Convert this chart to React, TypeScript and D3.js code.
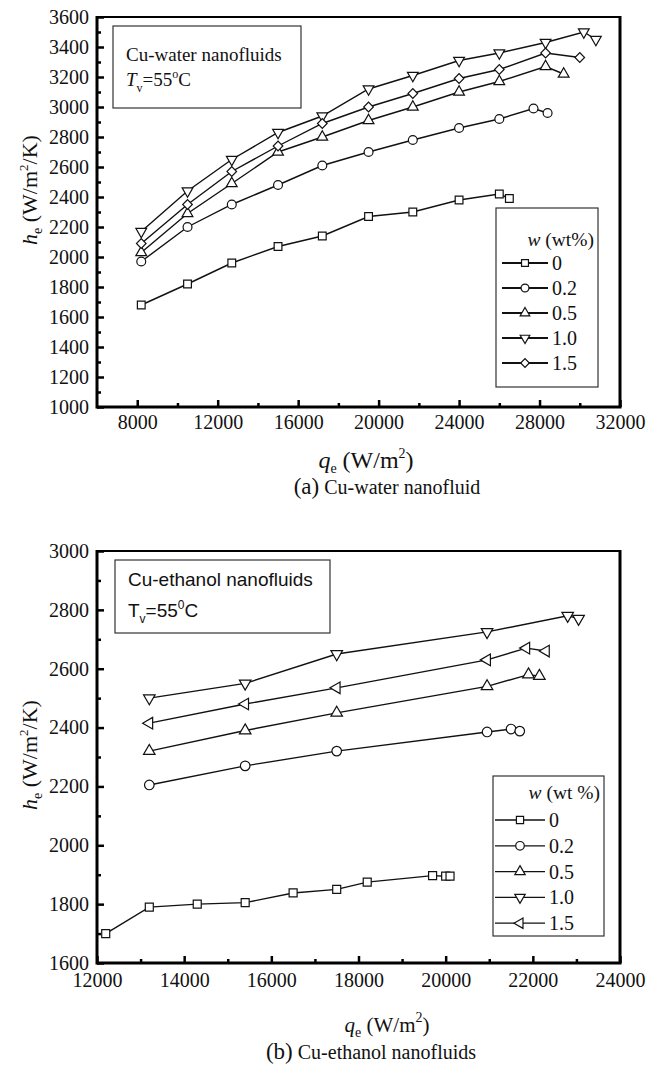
import React, { useEffect, useRef } from 'react';
import * as d3 from 'd3';

// (a) Cu-water nanofluid, q_e in W/m2, h_e in W/m2/K
const waterQ0 = [8200, 10500, 12700, 15000, 17200, 19500, 21700, 24000, 26000, 26500];
const waterH0 = [1680, 1820, 1960, 2070, 2140, 2270, 2300, 2380, 2420, 2390];
const waterQ02 = [8200, 10500, 12700, 15000, 17200, 19500, 21700, 24000, 26000, 27700, 28400];
const waterH02 = [1970, 2200, 2350, 2480, 2610, 2700, 2780, 2860, 2920, 2990, 2960];
const waterQ05 = [8200, 10500, 12700, 15000, 17200, 19500, 21700, 24000, 26000, 28300, 29200];
const waterH05 = [2030, 2290, 2490, 2700, 2800, 2910, 3000, 3100, 3170, 3270, 3220];
const waterQ10 = [8200, 10500, 12700, 15000, 17200, 19500, 21700, 24000, 26000, 28300, 30200, 30800];
const waterH10 = [2170, 2440, 2650, 2830, 2940, 3120, 3210, 3310, 3360, 3430, 3500, 3450];
const waterQ15 = [8200, 10500, 12700, 15000, 17200, 19500, 21700, 24000, 26000, 28300, 30000];
const waterH15 = [2090, 2350, 2570, 2740, 2890, 3000, 3090, 3190, 3250, 3360, 3330];

// (b) Cu-ethanol nanofluids
const ethQ0 = [12200, 13200, 14300, 15400, 16500, 17500, 18200, 19700, 20000, 20100];
const ethH0 = [1700, 1790, 1800, 1805, 1838, 1850, 1875, 1897, 1895, 1895];
const ethQ02 = [13200, 15400, 17500, 20950, 21500, 21700];
const ethH02 = [2205, 2270, 2320, 2385, 2395, 2388];
const ethQ05 = [13200, 15400, 17500, 20950, 21900, 22150];
const ethH05 = [2320, 2390, 2450, 2540, 2580, 2575];
const ethQ10 = [13200, 15400, 17500, 20950, 22800, 23050];
const ethH10 = [2500, 2550, 2650, 2725, 2780, 2770];
const ethQ15 = [13200, 15400, 17500, 20950, 21850, 22300];
const ethH15 = [2415, 2480, 2535, 2630, 2670, 2660];

const levels = ['0', '0.2', '0.5', '1.0', '1.5'];

const waterXMajor = [8000, 12000, 16000, 20000, 24000, 28000, 32000];
const waterXMinor = [10000, 14000, 18000, 22000, 26000, 30000];
const waterYMajor = d3.range(1000, 3601, 200);
const waterYMinor = d3.range(1100, 3600, 200);

const ethXMajor = [12000, 14000, 16000, 18000, 20000, 22000, 24000];
const ethXMinor = [13000, 15000, 17000, 19000, 21000, 23000];
const ethYMajor = d3.range(1600, 3001, 200);
const ethYMinor = d3.range(1700, 3000, 200);

const SERIF = '"Liberation Serif", "Times New Roman", serif';
const SANS = '"Liberation Sans", Arial, sans-serif';

const markers = [
  { type: d3.symbolSquare, rot: 0, size: 60 },
  { type: d3.symbolCircle, rot: 0, size: 62 },
  { type: d3.symbolTriangle, rot: 0, size: 50 },
  { type: d3.symbolTriangle, rot: 180, size: 50 },
];

const drawPanel = (svg, cfg) => {
  const { box } = cfg;
  const x = d3.scaleLinear().domain(cfg.xDomain).range([box.left, box.right]);
  const y = d3.scaleLinear().domain(cfg.yDomain).range([box.bottom, box.top]);
  const g = svg.append('g');

  // data
  const line = d3.line().x((d) => x(d[0])).y((d) => y(d[1]));
  cfg.series.forEach((s, i) => {
    const pts = s.q.map((q, k) => [q, s.h[k]]);
    g.append('path')
      .attr('d', line(pts))
      .attr('fill', 'none')
      .attr('stroke', '#111')
      .attr('stroke-width', 1.4);
    const m = cfg.markers[i];
    g.selectAll(null)
      .data(pts)
      .enter()
      .append('path')
      .attr('d', d3.symbol().type(m.type).size(m.size))
      .attr('transform', (d) => `translate(${x(d[0])},${y(d[1])}) rotate(${m.rot})`)
      .attr('fill', '#fff')
      .attr('stroke', '#111')
      .attr('stroke-width', 1.2);
  });

  // frame
  g.append('line').attr('x1', box.left).attr('x2', box.right).attr('y1', box.top).attr('y2', box.top)
    .attr('stroke', '#000').attr('stroke-width', 2);
  g.append('line').attr('x1', box.right).attr('x2', box.right).attr('y1', box.top - 1).attr('y2', box.bottom)
    .attr('stroke', '#000').attr('stroke-width', 3);

  // axes
  const styleAxis = (sel) => {
    sel.select('.domain').remove();
    sel.selectAll('line').attr('stroke', '#000').attr('stroke-width', 2.5);
    sel.selectAll('text').attr('fill', '#111').attr('font-family', SERIF).attr('font-size', 20);
    sel.attr('font-family', null).attr('font-size', null);
  };
  g.append('g').attr('transform', `translate(0,${box.bottom})`)
    .call(d3.axisBottom(x).tickValues(cfg.xMajor).tickSize(-7).tickPadding(cfg.xPad).tickFormat(d3.format('d')))
    .call(styleAxis);
  g.append('g').attr('transform', `translate(0,${box.bottom})`)
    .call(d3.axisBottom(x).tickValues(cfg.xMinor).tickSize(-4).tickFormat(() => ''))
    .call(styleAxis);
  g.append('g').attr('transform', `translate(${box.left},0)`)
    .call(d3.axisLeft(y).tickValues(cfg.yMajor).tickSize(-7).tickPadding(8).tickFormat(d3.format('d')))
    .call(styleAxis);
  g.append('g').attr('transform', `translate(${box.left},0)`)
    .call(d3.axisLeft(y).tickValues(cfg.yMinor).tickSize(-4).tickFormat(() => ''))
    .call(styleAxis);

  g.append('line').attr('x1', box.left).attr('x2', box.right + 1.5).attr('y1', box.bottom).attr('y2', box.bottom)
    .attr('stroke', '#000').attr('stroke-width', 3);
  g.append('line').attr('x1', box.left).attr('x2', box.left).attr('y1', box.top - 1).attr('y2', box.bottom + 1.5)
    .attr('stroke', '#000').attr('stroke-width', 3);

  // annotation box
  const a = cfg.note;
  g.append('rect').attr('x', a.x).attr('y', a.y).attr('width', a.w).attr('height', a.h)
    .attr('fill', '#fff').attr('stroke', '#333').attr('stroke-width', 1.2);
  g.append('text').attr('x', a.x + 13).attr('y', a.y + a.line1).attr('font-family', a.font)
    .attr('font-size', a.size).attr('fill', '#111').text(a.title);
  const t = g.append('text').attr('x', a.x + 13).attr('y', a.y + a.line2).attr('font-family', a.font)
    .attr('font-size', a.size).attr('fill', '#111');
  t.append('tspan').attr('font-style', a.font === SERIF ? 'italic' : 'normal').text('T');
  t.append('tspan').attr('font-size', 12).attr('dy', 6).text('v');
  t.append('tspan').attr('dy', -6).text('=55');
  t.append('tspan').attr('font-size', 12).attr('dy', -8).text(a.deg);
  t.append('tspan').attr('dy', 8).text('C');

  // legend
  const L = cfg.legend;
  g.append('rect').attr('x', L.x).attr('y', L.y).attr('width', L.w).attr('height', L.h)
    .attr('fill', '#fff').attr('stroke', '#333').attr('stroke-width', 1.2);
  const lt = g.append('text').attr('x', L.x + L.w - 4).attr('y', L.y + L.titleY)
    .attr('text-anchor', 'end').attr('font-family', SERIF).attr('font-size', 19.5).attr('fill', '#111');
  lt.append('tspan').attr('font-style', 'italic').text('w');
  lt.append('tspan').text(L.title);
  levels.forEach((lab, i) => {
    const cy = L.y + L.row0 + i * L.step;
    g.append('line').attr('x1', L.x + L.l0).attr('x2', L.x + L.l1).attr('y1', cy).attr('y2', cy)
      .attr('stroke', '#111').attr('stroke-width', L.lw);
    const m = cfg.markers[i];
    g.append('path')
      .attr('d', d3.symbol().type(m.type).size(m.size * 0.8))
      .attr('transform', `translate(${L.x + (L.l0 + L.l1) / 2},${cy}) rotate(${m.rot})`)
      .attr('fill', '#fff').attr('stroke', '#111').attr('stroke-width', 1.2);
    g.append('text').attr('x', L.x + L.l1 + 4).attr('y', cy + 7)
      .attr('font-family', SERIF).attr('font-size', 20).attr('fill', '#111').text(lab);
  });

  // y label
  const yl = g.append('text').attr('transform', `translate(${cfg.yLabel.x},${cfg.yLabel.y}) rotate(-90)`)
    .attr('text-anchor', 'middle').attr('font-family', SERIF).attr('font-size', 22).attr('fill', '#111');
  yl.append('tspan').attr('font-style', 'italic').text('h');
  yl.append('tspan').attr('font-size', 14).attr('dy', 5).text('e');
  yl.append('tspan').attr('dy', -5).text(' (W/m');
  yl.append('tspan').attr('font-size', 13).attr('dy', -9).text('2');
  yl.append('tspan').attr('dy', 9).text('/K)');

  // x label
  const xl = g.append('text').attr('x', cfg.xLabel.x).attr('y', cfg.xLabel.y)
    .attr('text-anchor', 'middle').attr('font-family', SERIF).attr('font-size', cfg.xLabel.size).attr('fill', '#111');
  xl.append('tspan').attr('font-style', 'italic').text('q');
  xl.append('tspan').attr('font-size', 14).attr('dy', 5).text('e');
  xl.append('tspan').attr('dy', -5).text(' (W/m');
  xl.append('tspan').attr('font-size', 14).attr('dy', -10).text('2');
  xl.append('tspan').attr('dy', 10).text(')');

  // caption
  const cap = g.append('text').attr('x', cfg.caption.x).attr('y', cfg.caption.y)
    .attr('text-anchor', 'middle').attr('font-family', SERIF).attr('fill', '#111');
  cap.append('tspan').attr('font-size', 23).text(cfg.caption.tag);
  cap.append('tspan').attr('font-size', 20).text(' ' + cfg.caption.text);
};

const App = () => {
  const svgRef = useRef(null);

  useEffect(() => {
    const svg = d3.select(svgRef.current);
    svg.selectAll('*').remove();

    drawPanel(svg, {
      box: { left: 97, right: 620, top: 17, bottom: 407 },
      xDomain: [6000, 32000],
      yDomain: [1000, 3600],
      xMajor: waterXMajor, xMinor: waterXMinor, yMajor: waterYMajor, yMinor: waterYMinor,
      xPad: 8,
      markers: [...markers, { type: d3.symbolSquare, rot: 45, size: 46 }],
      series: [
        { q: waterQ0, h: waterH0 },
        { q: waterQ02, h: waterH02 },
        { q: waterQ05, h: waterH05 },
        { q: waterQ10, h: waterH10 },
        { q: waterQ15, h: waterH15 },
      ],
      note: { x: 113, y: 26, w: 188, h: 82, line1: 35, line2: 60, font: SERIF, size: 19,
        title: 'Cu-water nanofluids', deg: 'o' },
      legend: { x: 496, y: 208, w: 102, h: 179, titleY: 38, row0: 55, step: 25,
        l0: 6, l1: 52, lw: 2.2, title: ' (wt%)' },
      yLabel: { x: 37, y: 190 },
      xLabel: { x: 366, y: 468, size: 24 },
      caption: { x: 387, y: 494, tag: '(a)', text: 'Cu-water nanofluid' },
    });

    drawPanel(svg, {
      box: { left: 97, right: 620, top: 551, bottom: 963 },
      xDomain: [12000, 24000],
      yDomain: [1600, 3000],
      xMajor: ethXMajor, xMinor: ethXMinor, yMajor: ethYMajor, yMinor: ethYMinor,
      xPad: 10,
      markers: [
        { type: d3.symbolSquare, rot: 0, size: 64 },
        { type: d3.symbolCircle, rot: 0, size: 72 },
        { type: d3.symbolTriangle, rot: 0, size: 58 },
        { type: d3.symbolTriangle, rot: 180, size: 58 },
        { type: d3.symbolTriangle, rot: -90, size: 58 },
      ],
      series: [
        { q: ethQ0, h: ethH0 },
        { q: ethQ02, h: ethH02 },
        { q: ethQ05, h: ethH05 },
        { q: ethQ10, h: ethH10 },
        { q: ethQ15, h: ethH15 },
      ],
      note: { x: 115, y: 560, w: 215, h: 73, line1: 26, line2: 57, font: SANS, size: 19,
        title: 'Cu-ethanol nanofluids', deg: '0' },
      legend: { x: 493, y: 776, w: 111, h: 160, titleY: 23, row0: 44, step: 25.8,
        l0: 2, l1: 52, lw: 1.3, title: ' (wt %)' },
      yLabel: { x: 37, y: 755 },
      xLabel: { x: 387, y: 1032, size: 21 },
      caption: { x: 371, y: 1059, tag: '(b)', text: 'Cu-ethanol nanofluids' },
    });
  }, []);

  return (
    <svg ref={svgRef} width={646} height={1070}
      style={{ position: 'absolute', left: 0, top: 0, background: '#fff' }}></svg>
  );
};

export default App;
